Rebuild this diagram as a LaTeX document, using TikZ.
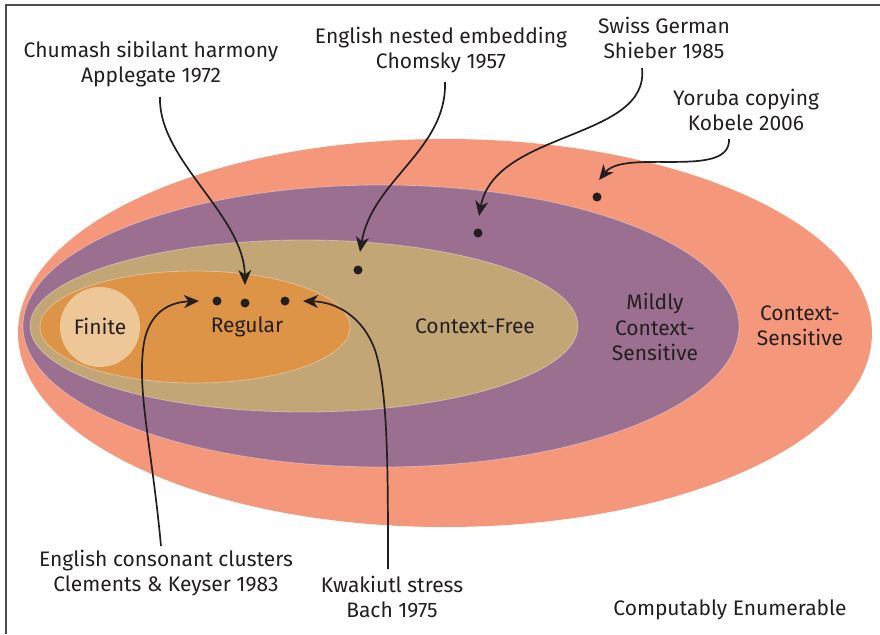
\documentclass[tikz,border=0pt]{standalone}
\usepackage{fontspec}
\setmainfont{Fira Sans}
\usetikzlibrary{arrows.meta}
\definecolor{cs}{HTML}{F4977A}
\definecolor{mcs}{HTML}{9B6F8F}
\definecolor{cf}{HTML}{C3A676}
\definecolor{reg}{HTML}{DD9447}
\definecolor{fin}{HTML}{EDC798}
\definecolor{ink}{HTML}{231F20}
\tikzset{
  lbl/.style={align=center, text=ink, font=\fontsize{21}{25.5}\selectfont, inner sep=0pt},
  pointer/.style={draw=ink, line width=1.7pt, -{Stealth[length=15pt,width=13pt,inset=4.5pt]}},
  dot/.style={circle, fill=ink, minimum size=9pt, inner sep=0pt},
  edge/.style={draw=white, draw opacity=0.35, line width=0.8pt}
}
\begin{document}
\begin{tikzpicture}[x=1pt,y=-1pt]
\useasboundingbox (0,0) rectangle (880,634);
\draw[draw=ink!80, line width=1.3pt] (6,634) -- (6,5) -- (880,5);
% sets
\fill[cs] (445,333) ellipse [x radius=427, y radius=194];
\path[fill=mcs, edge] (381,326) ellipse [x radius=358, y radius=141];
\path[fill=cf, edge] (304,326) ellipse [x radius=274, y radius=86];
\path[fill=reg, edge] (195,327) ellipse [x radius=155, y radius=56];
\fill[fin] (100,327) circle [radius=40];
% set labels
\node[lbl] (finite) at (100,326) {Finite};
\node[lbl] (regular) at (247,327) {Regular};
\node[lbl] (cfl) at (475,326) {Context-Free};
\node[lbl] (mcsl) at (655,327) {Mildly\\Context-\\Sensitive};
\node[lbl] (csl) at (800,326) {Context-\\Sensitive};
\node[lbl] (ce) at (730,610) {Computably Enumerable};
% dots
\node[dot] (d1) at (217,301) {};
\node[dot] (d2) at (245,303) {};
\node[dot] (d3) at (285,301) {};
\node[dot] (d4) at (358,270) {};
\node[dot] (d5) at (478,233) {};
\node[dot] (d6) at (597,197) {};
% example labels
\node[lbl] (chumash) at (151,64) {Chumash sibilant harmony\\Applegate 1972};
\node[lbl] (nested) at (441,50) {English nested embedding\\Chomsky 1957};
\node[lbl] (swiss) at (664,38) {Swiss German\\Shieber 1985};
\node[lbl] (yoruba) at (746,110) {Yoruba copying\\Kobele 2006};
\node[lbl] (clusters) at (166,573) {English consonant clusters\\Clements \& Keyser 1983};
\node[lbl] (kwak) at (392,597) {Kwakiutl stress\\Bach 1975};
% arrow ends
\coordinate (s1) at (160,97);   \coordinate (t1) at (245,285);
\coordinate (s2) at (445,82);   \coordinate (t2) at (360,252);
\coordinate (s3) at (642,68);   \coordinate (t3) at (479,216);
\coordinate (s4) at (729,139);  \coordinate (t4) at (599,180);
\coordinate (s5) at (161,546);  \coordinate (t5) at (199,301);
\coordinate (s6) at (388,569);  \coordinate (t6) at (303,301);
\draw[pointer] (s1) .. controls (158,160) and (244,215) .. (t1);
\draw[pointer] (s2) .. controls (447,150) and (372,180) .. (t2);
\draw[pointer] (s3) .. controls (650,140) and (495,130) .. (t3);
\draw[pointer] (s4) .. controls (731,180) and (625,148) .. (t4);
\draw[pointer] (s5) .. controls (152,450) and (138,395) .. (143,350) .. controls (147,310) and (172,302) .. (t5);
\draw[pointer] (s6) .. controls (388,470) and (388,390) .. (375,350) .. controls (362,315) and (335,302) .. (t6);
\end{tikzpicture}
\end{document}
